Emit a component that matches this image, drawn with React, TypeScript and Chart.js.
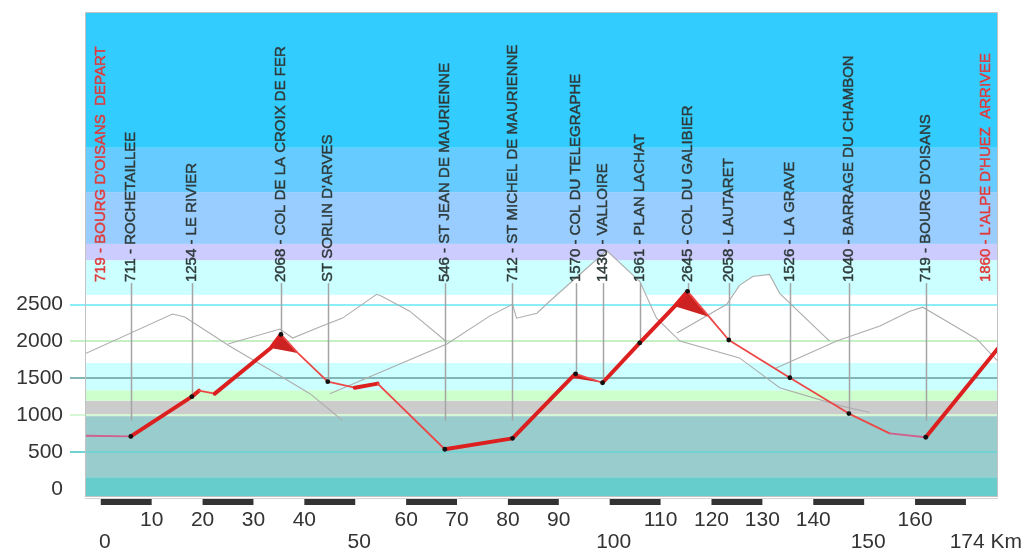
import React, { useEffect, useRef } from "react";
import { Chart, registerables } from "chart.js";

Chart.register(...registerables);

// ---- Road profile (km, altitude in m) ----
const profileKm = [-3.1, 5.9, 17.9, 19.3, 22.4, 33.4, 35.4, 38.7, 44.6, 49.9, 54.4, 67.6, 80.9, 92.5, 93.3, 98.6, 105.9, 112.8, 115.3, 119.6, 123.4, 135.4, 147.0, 155.0, 162.1, 176.2];
const profileAlt = [725, 716, 1254, 1335, 1295, 1913, 2095, 1845, 1457, 1375, 1430, 543, 690, 1510, 1563, 1442, 1980, 2478, 2678, 2330, 2020, 1510, 1025, 757, 705, 1900];

// ---- Summit wedges ----
const croixFerKm = [33.4, 35.4, 38.7];
const croixFerAlt = [1913, 2095, 1845];
const telegrapheKm = [92.5, 93.3, 98.6];
const telegrapheAlt = [1510, 1563, 1442];
const galibierKm = [112.8, 115.3, 119.6];
const galibierAlt = [2478, 2678, 2330];

// ---- Towns ----
const townKm = [0, 5.9, 17.9, 35.4, 44.6, 67.6, 80.9, 93.3, 98.6, 105.9, 115.3, 123.4, 135.4, 147.0, 162.1, 174];
const townLabels = [
  "719 - BOURG D'OISANS  DEPART",
  "711 - ROCHETAILLEE",
  "1254 - LE RIVIER",
  "2068 - COL DE LA CROIX DE FER",
  "ST SORLIN D'ARVES",
  "546 - ST JEAN DE MAURIENNE",
  "712 - ST MICHEL DE MAURIENNE",
  "1570 - COL DU TELEGRAPHE",
  "1430 - VALLOIRE",
  "1961 - PLAN LACHAT",
  "2645 - COL DU GALIBIER",
  "2058 - LAUTARET",
  "1526 - LA GRAVE",
  "1040 - BARRAGE DU CHAMBON",
  "719 - BOURG D'OISANS",
  "1860 - L'ALPE D'HUEZ  ARRIVEE",
];

// ---- Background mountain silhouettes ----
const mountainAKm = [-3.1, 14.1, 16.5, 25.3, 35.2, 41.1, 47.5];
const mountainAAlt = [1833, 2372, 2332, 1940, 1536, 1294, 931];
const mountainBKm = [25.0, 35.2, 37.7, 43.0, 47.5, 54.2, 55.2, 60.7, 68.0];
const mountainBAlt = [1966, 2168, 2047, 2195, 2316, 2638, 2611, 2410, 1993];
const mountainCKm = [45.0, 68.0, 76.4, 80.9, 81.7, 85.7, 88.2, 99.4, 105.9, 109.2, 113.8, 125.5, 133.4, 145.2, 151.1];
const mountainCAlt = [1294, 1966, 2343, 2504, 2315, 2383, 2544, 3230, 2813, 2315, 2006, 1778, 1375, 1133, 1039];
const mountainDKm = [113.2, 123.0, 125.5, 128.1, 131.4, 133.4, 143.2];
const mountainDAlt = [2114, 2504, 2759, 2880, 2907, 2651, 2006];
const mountainEKm = [132.4, 144.6, 153.1, 159.0, 161.5, 166.8, 172.1, 176.2];
const mountainEAlt = [1630, 2006, 2208, 2410, 2464, 2249, 2034, 1738];

// ---- Altitude bands ----
const bandTops = [165, 990, 1200, 1340, 1710, 2630, 3100, 3320, 4020, 4620, 6456];
const bandColors = ["#66cccc", "#99cccc", "#cccccc", "#ccffcc", "#ccffff", "#ffffff", "#ccffff", "#ccccff", "#99ccff", "#66ccff", "#33ccff"];

// ---- Axis ticks ----
const yTicks = [0, 500, 1000, 1500, 2000, 2500];
const gridColors = ["", "#72d2d2", "#d6f7d6", "#82b6b6", "#c4f0c4", "#8aeef8"];
const xTicksRow1 = [10, 20, 30, 40, 60, 70, 80, 90, 110, 120, 130, 140, 160];
const xTicksRow2 = [0, 50, 100, 150];
const xFinalLabel = "174 Km";
const kmBarStarts = [0, 20, 40, 60, 80, 100, 120, 140, 160];

const FONT = '"Liberation Sans", Arial, sans-serif';
const LINE_MIN_ALT = 930;
const LABEL_BASE_ALT = 2790;

const pts = (km: number[], alt: number[]) => km.map((k, i) => ({ x: k, y: alt[i] }));

const mountain = (km: number[], alt: number[]) => ({
  label: "mountain",
  data: pts(km, alt),
  borderColor: "#adadad",
  borderWidth: 1.1,
  pointRadius: 0,
  tension: 0,
  fill: { target: { value: 2630 }, above: "#ffffff", below: "rgba(0,0,0,0)" },
  order: 5,
});

const wedge = (km: number[], alt: number[]) => ({
  label: "wedge",
  data: pts(km, alt),
  borderWidth: 0,
  borderColor: "rgba(0,0,0,0)",
  backgroundColor: "#cc2222",
  pointRadius: 0,
  fill: "shape",
  order: 3,
});

const townDots = townKm
  .map((k, i) => ({ k, i }))
  .filter(({ i }) => i > 0 && i < townKm.length - 1)
  .map(({ k }) => ({ x: k, y: profileAlt[profileKm.indexOf(k)] }));

const decorPlugin = {
  id: "stageDecor",
  beforeDatasetsDraw(chart: any) {
    const { ctx, chartArea: a } = chart;
    const y = chart.scales.y;
    ctx.save();
    let prev = a.bottom;
    for (let i = 0; i < bandTops.length; i++) {
      const top = Math.max(a.top, y.getPixelForValue(bandTops[i]));
      ctx.fillStyle = bandColors[i];
      ctx.fillRect(a.left, top, a.right - a.left, prev - top);
      prev = top;
    }
    ctx.lineWidth = 2;
    yTicks.forEach((v, i) => {
      if (!gridColors[i]) return;
      const yp = Math.round(y.getPixelForValue(v));
      ctx.strokeStyle = gridColors[i];
      ctx.beginPath();
      ctx.moveTo(a.left - 15, yp);
      ctx.lineTo(a.right, yp);
      ctx.stroke();
    });
    ctx.fillStyle = "#333333";
    ctx.font = `21px ${FONT}`;
    ctx.textAlign = "right";
    ctx.textBaseline = "middle";
    yTicks.forEach((v) => ctx.fillText(String(v), a.left - 22, y.getPixelForValue(v)));
    ctx.restore();
  },
  beforeDatasetDraw(chart: any, args: any) {
    if (chart.data.datasets[args.index].label !== "profile") return;
    const { ctx } = chart;
    const { x, y } = chart.scales;
    ctx.save();
    ctx.strokeStyle = "#a4a4a4";
    ctx.lineWidth = 1.5;
    const top = y.getPixelForValue(LABEL_BASE_ALT);
    townKm.forEach((k, i) => {
      if (i === 0 || i === townKm.length - 1) return;
      const alt = profileAlt[profileKm.indexOf(k)];
      const xp = Math.round(x.getPixelForValue(k)) + 0.5;
      ctx.beginPath();
      ctx.moveTo(xp, top);
      ctx.lineTo(xp, y.getPixelForValue(Math.max(alt, LINE_MIN_ALT)));
      ctx.stroke();
    });
    ctx.restore();
  },
  afterDraw(chart: any) {
    const { ctx, chartArea: a } = chart;
    const { x, y } = chart.scales;
    ctx.save();
    // frame
    ctx.strokeStyle = "#c2c2c2";
    ctx.lineWidth = 1;
    ctx.strokeRect(a.left + 0.5, a.top + 0.5, a.right - a.left - 1, a.bottom - a.top - 1);
    ctx.strokeStyle = "#d4d4d4";
    ctx.beginPath();
    ctx.moveTo(a.left, a.bottom + 1.5);
    ctx.lineTo(a.right, a.bottom + 1.5);
    ctx.stroke();
    // km bars
    ctx.fillStyle = "#333333";
    kmBarStarts.forEach((k) => {
      const x0 = x.getPixelForValue(k);
      const x1 = x.getPixelForValue(k + 10);
      ctx.fillRect(x0, a.bottom + 2, x1 - x0, 6);
    });
    // x labels
    ctx.font = `21px ${FONT}`;
    ctx.textBaseline = "middle";
    ctx.textAlign = "center";
    xTicksRow1.forEach((k) => ctx.fillText(String(k), x.getPixelForValue(k), a.bottom + 23));
    xTicksRow2.forEach((k) => ctx.fillText(String(k), x.getPixelForValue(k) + 4, a.bottom + 45));
    ctx.textAlign = "right";
    ctx.fillText(xFinalLabel, chart.width, a.bottom + 45);
    // town labels
    ctx.font = `15px ${FONT}`;
    ctx.textAlign = "left";
    ctx.textBaseline = "middle";
    ctx.lineWidth = 0.45;
    const base = y.getPixelForValue(LABEL_BASE_ALT) - 1;
    townKm.forEach((k, i) => {
      const red = i === 0 || i === townKm.length - 1;
      const col = red ? "#e03a3a" : "#2f3b3b";
      ctx.fillStyle = col;
      ctx.strokeStyle = col;
      ctx.save();
      ctx.translate(x.getPixelForValue(k), base);
      ctx.rotate(-Math.PI / 2);
      ctx.fillText(townLabels[i], 0, 0);
      ctx.strokeText(townLabels[i], 0, 0);
      ctx.restore();
    });
    ctx.restore();
  },
};

export default function App() {
  const ref = useRef<HTMLCanvasElement>(null);
  useEffect(() => {
    const canvas = ref.current;
    if (!canvas) return;
    const chart = new Chart(canvas, {
      type: "line",
      data: {
        datasets: [
          mountain(mountainAKm, mountainAAlt),
          mountain(mountainBKm, mountainBAlt),
          mountain(mountainCKm, mountainCAlt),
          mountain(mountainDKm, mountainDAlt),
          mountain(mountainEKm, mountainEAlt),
          wedge(croixFerKm, croixFerAlt),
          wedge(telegrapheKm, telegrapheAlt),
          wedge(galibierKm, galibierAlt),
          {
            label: "profile",
            data: pts(profileKm, profileAlt),
            borderColor: "#dd2222",
            borderWidth: 2,
            pointRadius: 0,
            tension: 0,
            fill: false,
            order: 2,
            borderJoinStyle: "round",
            borderCapStyle: "round",
            segment: {
              borderColor: (c: any) => {
                const dy = c.p1.parsed.y - c.p0.parsed.y;
                const dx = c.p1.parsed.x - c.p0.parsed.x;
                if (dy > 0) return "#dc2020";
                if (Math.abs(dy / dx) < 8) return "#d0608c";
                return "#ec4848";
              },
              borderWidth: (c: any) => (c.p1.parsed.y > c.p0.parsed.y ? 4 : 1.8),
            },
          } as any,
          {
            label: "towns",
            data: townDots,
            showLine: false,
            pointRadius: 2.4,
            pointBackgroundColor: "#111111",
            pointBorderWidth: 0,
            order: 1,
          },
        ] as any,
      },
      options: {
        responsive: false,
        animation: false,
        events: [],
        layout: { padding: { left: 77, top: 1, right: 24, bottom: 55 } },
        plugins: { legend: { display: false }, tooltip: { enabled: false } },
        scales: {
          x: { type: "linear", min: -3.1, max: 176.3, display: false },
          y: { type: "linear", min: -103, max: 6456, display: false },
        },
      },
      plugins: [decorPlugin],
    });
    return () => chart.destroy();
  }, []);
  return (
    <div style={{ width: 1014, height: 544 }}>
      <canvas ref={ref} width={1014} height={544} style={{ display: "block", width: 1014, height: 544 }} />
    </div>
  );
}
